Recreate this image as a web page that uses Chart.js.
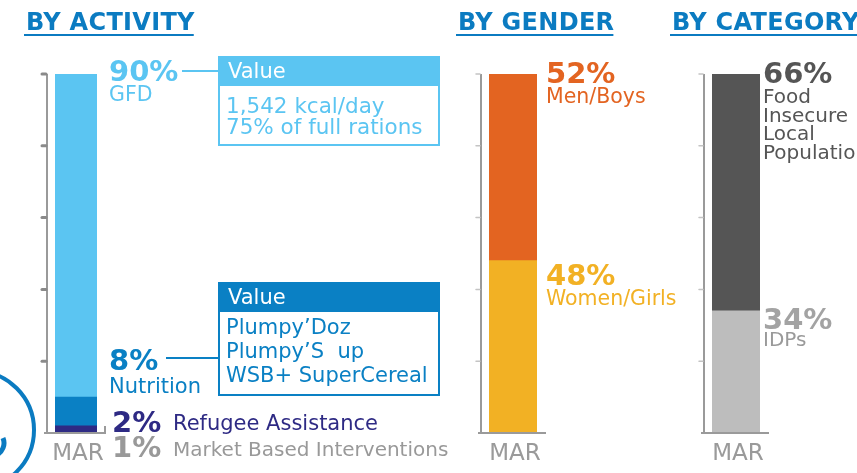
<!DOCTYPE html>
<html>
<head>
<meta charset="utf-8">
<script src="https://cdn.jsdelivr.net/npm/chart.js@4"></script>
<style>
  html, body { margin: 0; padding: 0; background: #fff; }
  #wrap { position: relative; width: 857px; height: 473px; overflow: hidden; }
  #wrap canvas { position: absolute; left: 0; top: 0; }
</style>
</head>
<body>
<div id="wrap">
  <canvas id="activity" width="857" height="473"></canvas>
  <canvas id="gender" width="857" height="473"></canvas>
  <canvas id="category" width="857" height="473"></canvas>
</div>
<script>
const monthLabels = ['MAR'];

// by activity (lists are top-first)
const activityNames = ['GFD', 'Nutrition', 'Refugee Assistance', 'Market Based Interventions'];
const activityValues = [90, 8, 2, 1];
const activityColors = ['#5bc5f2', '#0a80c4', '#2e2a84', '#999999'];

const gfdNotes = ['1,542 kcal/day', '75% of full rations'];
const nutritionNotes = ['Plumpy’Doz', 'Plumpy’S  up', 'WSB+ SuperCereal'];

// by gender
const genderNames = ['Men/Boys', 'Women/Girls'];
const genderValues = [52, 48];
const genderColors = ['#e36421', '#f2b124'];

// by category
const categoryNames = ['Food Insecure Local Population', 'IDPs'];
const categoryValues = [66, 34];
const categoryColors = ['#555555', '#bdbdbd'];
const categoryTextColors = ['#555555', '#a3a3a3'];

const axisTicks = [0, 20, 40, 60, 80, 100];
const titleBlue = '#0b7bc1';
const FONT = '"DejaVu Sans", Verdana, sans-serif';

function drawTitle(ctx, text, x) {
  ctx.save();
  ctx.font = 'bold 24px ' + FONT;
  ctx.letterSpacing = '0.3px';
  ctx.fillStyle = titleBlue;
  ctx.textBaseline = 'alphabetic';
  ctx.fillText(text, x, 30);
  const w = ctx.measureText(text).width;
  ctx.fillRect(x - 2, 34, w + 1, 2);
  ctx.restore();
}

function drawAxis(chart, endTick) {
  const { ctx, chartArea } = chart;
  const y = chart.scales.y;
  const ax = chartArea.left - 8;
  const bottom = y.getPixelForValue(0);
  ctx.save();
  ctx.strokeStyle = '#9a9a9a';
  ctx.lineWidth = 2;
  ctx.beginPath();
  ctx.moveTo(ax, y.getPixelForValue(100));
  ctx.lineTo(ax, bottom);
  ctx.moveTo(ax - 3, bottom);
  ctx.lineTo(chartArea.right + 9, bottom);
  if (endTick) {
    ctx.moveTo(chartArea.right + 8, bottom);
    ctx.lineTo(chartArea.right + 8, bottom - 7);
  }
  ctx.stroke();
  ctx.lineCap = 'round';
  ctx.lineWidth = endTick ? 3 : 1.5;
  ctx.strokeStyle = endTick ? '#8a8a8a' : '#c4c4c4';
  axisTicks.slice(1).forEach(v => {
    const py = y.getPixelForValue(v);
    ctx.beginPath();
    ctx.moveTo(ax - 5, py);
    ctx.lineTo(ax - 1, py);
    ctx.stroke();
  });
  ctx.font = '23px ' + FONT;
  ctx.fillStyle = '#9a9a9a';
  ctx.textAlign = 'center';
  ctx.fillText(monthLabels[0], (chartArea.left + chartArea.right) / 2 + 2, bottom + 27);
  ctx.restore();
}

function segTop(values, i) {
  // values listed top-first; segment i top is the sum of itself and all below it
  let s = 0;
  for (let k = i; k < values.length; k++) s += values[k];
  return s;
}

function pctText(ctx, text, x, base, color) {
  ctx.font = 'bold 29px ' + FONT;
  ctx.fillStyle = color;
  ctx.fillText(text, x, base);
}

function nameText(ctx, lines, x, base, color, lh, size) {
  ctx.font = (size || 20.5) + 'px ' + FONT;
  ctx.fillStyle = color;
  lines.forEach((l, i) => ctx.fillText(l, x, base + i * lh));
}

function noteBox(ctx, x, y, w, h, color, lines, firstBase, lh, size) {
  ctx.save();
  ctx.fillStyle = color;
  ctx.fillRect(x, y, w, 30);
  ctx.strokeStyle = color;
  ctx.lineWidth = 2;
  ctx.strokeRect(x + 1, y + 1, w - 2, h - 2);
  ctx.font = '21px ' + FONT;
  ctx.fillStyle = '#ffffff';
  ctx.fillText('Value', x + 10, y + 22);
  ctx.font = size + 'px ' + FONT;
  ctx.fillStyle = color;
  lines.forEach((l, i) => ctx.fillText(l, x + 8, firstBase + i * lh));
  ctx.restore();
}

function stackedSets(names, values, colors, hiddenFrom) {
  // Chart.js stacks the first dataset at the bottom, so reverse the top-first lists
  const sets = names.map((n, i) => ({
    label: n,
    data: [values[i]],
    backgroundColor: colors[i],
    borderWidth: 0,
    barPercentage: 1,
    categoryPercentage: 1,
    hidden: hiddenFrom !== undefined && i >= hiddenFrom
  }));
  const shown = sets.filter(s => !s.hidden).reverse();
  return shown.concat(sets.filter(s => s.hidden));
}

function makeChart(id, datasets, pad, drawFn) {
  return new Chart(document.getElementById(id), {
    type: 'bar',
    data: { labels: monthLabels, datasets: datasets },
    options: {
      responsive: false,
      animation: false,
      events: [],
      layout: { padding: pad },
      plugins: { legend: { display: false }, tooltip: { enabled: false } },
      scales: {
        x: { display: false, stacked: true },
        y: { display: false, stacked: true, min: 0, max: 100 }
      }
    },
    plugins: [{ id: 'decor', afterDraw: drawFn }]
  });
}

// BY ACTIVITY
makeChart('activity', stackedSets(activityNames, activityValues, activityColors, 3),
  { left: 55, right: 760, top: 74, bottom: 40 },
  chart => {
    const { ctx, chartArea } = chart;
    const y = chart.scales.y;
    drawTitle(ctx, 'BY ACTIVITY', 26);
    drawAxis(chart, true);
    ctx.save();
    ctx.textBaseline = 'alphabetic';
    const lx = chartArea.right + 12;
    // GFD
    const gTop = y.getPixelForValue(segTop(activityValues.slice(0, 3), 0));
    pctText(ctx, activityValues[0] + '%', lx, gTop + 7, activityColors[0]);
    nameText(ctx, [activityNames[0]], lx, gTop + 27, activityColors[0], 20);
    // Nutrition
    const nTop = y.getPixelForValue(segTop(activityValues.slice(0, 3), 1));
    pctText(ctx, activityValues[1] + '%', lx, nTop - 27, activityColors[1]);
    nameText(ctx, [activityNames[1]], lx, nTop - 4, activityColors[1], 20, 21);
    // Refugee Assistance
    const rTop = y.getPixelForValue(segTop(activityValues.slice(0, 3), 2));
    pctText(ctx, activityValues[2] + '%', lx + 3, rTop + 6, activityColors[2]);
    nameText(ctx, [activityNames[2]], lx + 64, rTop + 4, activityColors[2], 20, 21);
    // Market Based Interventions
    const bottom = y.getPixelForValue(0);
    pctText(ctx, activityValues[3] + '%', lx + 3, bottom + 24, activityColors[3]);
    nameText(ctx, [activityNames[3]], lx + 64, bottom + 23, activityColors[3], 20, 20);

    // connectors and note boxes
    ctx.lineWidth = 2;
    ctx.strokeStyle = activityColors[0];
    ctx.beginPath();
    ctx.moveTo(182, gTop - 3);
    ctx.lineTo(219, gTop - 3);
    ctx.stroke();
    ctx.strokeStyle = activityColors[1];
    ctx.beginPath();
    ctx.moveTo(166, nTop - 39);
    ctx.lineTo(219, nTop - 39);
    ctx.stroke();
    noteBox(ctx, 218, 56, 222, 90, activityColors[0], gfdNotes, 113, 21, 21.5);
    noteBox(ctx, 218, 282, 222, 114, activityColors[1], nutritionNotes, 334, 24, 21);

    // partial logo ring at lower left
    ctx.strokeStyle = titleBlue;
    ctx.lineWidth = 4;
    ctx.beginPath();
    ctx.arc(-25, 430, 59, -Math.PI / 2, Math.PI / 2);
    ctx.stroke();
    ctx.lineWidth = 5;
    ctx.beginPath();
    ctx.arc(-9, 443, 13, -0.4, 1.3);
    ctx.stroke();
    ctx.restore();
  });

// BY GENDER
makeChart('gender', stackedSets(genderNames, genderValues, genderColors),
  { left: 489, right: 320, top: 74, bottom: 40 },
  chart => {
    const { ctx, chartArea } = chart;
    const y = chart.scales.y;
    drawTitle(ctx, 'BY GENDER', 458);
    drawAxis(chart, false);
    ctx.save();
    const lx = chartArea.right + 9;
    genderNames.forEach((n, i) => {
      const top = y.getPixelForValue(segTop(genderValues, i));
      const off = i === 0 ? 9 : 24;
      pctText(ctx, genderValues[i] + '%', lx, top + off, genderColors[i]);
      nameText(ctx, [n], lx, top + off + 20, genderColors[i], 20);
    });
    ctx.restore();
  });

// BY CATEGORY
makeChart('category', stackedSets(categoryNames, categoryValues, categoryColors),
  { left: 712, right: 97, top: 74, bottom: 40 },
  chart => {
    const { ctx, chartArea } = chart;
    const y = chart.scales.y;
    drawTitle(ctx, 'BY CATEGORY', 672);
    drawAxis(chart, false);
    ctx.save();
    const lx = chartArea.right + 3;
    categoryNames.forEach((n, i) => {
      const top = y.getPixelForValue(segTop(categoryValues, i));
      const off = i === 0 ? 9 : 18;
      pctText(ctx, categoryValues[i] + '%', lx, top + off, categoryTextColors[i]);
      nameText(ctx, n.split(' '), lx, top + off + (i === 0 ? 20 : 17), i === 0 ? '#555555' : '#9a9a9a', 18.5, 20);
    });
    ctx.restore();
  });
</script>
</body>
</html>
